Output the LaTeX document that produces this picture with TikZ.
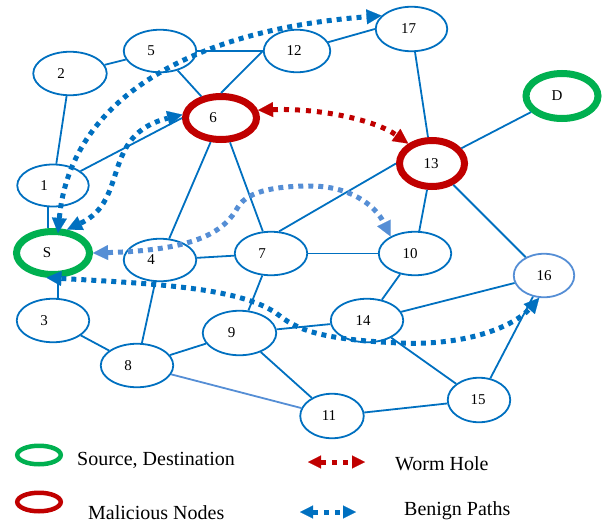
\documentclass[tikz,border=0pt]{standalone}
\usepackage{fontspec}
\setmainfont{Liberation Serif}
\usetikzlibrary{shapes.geometric,arrows.meta}
\definecolor{nblue}{HTML}{0070C0}
\definecolor{lblue}{HTML}{558ED5}
\definecolor{ngreen}{HTML}{00B050}
\definecolor{nred}{HTML}{C00000}
\begin{document}
\begin{tikzpicture}[x=1pt,y=-1pt,
  bn/.style={ellipse, draw=nblue, line width=1.8pt, fill=white, inner sep=0pt},
  gn/.style={ellipse, draw=ngreen, line width=7pt, fill=white, inner sep=0pt},
  rn/.style={ellipse, draw=nred, line width=7pt, fill=white, inner sep=0pt},
  lab/.style={font=\fontsize{15}{18}\selectfont, inner sep=0pt, text=black},
  leg/.style={font=\fontsize{20}{24}\selectfont, inner sep=0pt, text=black},
  edge/.style={draw=nblue, line width=1.8pt},
  bigtri/.tip={Triangle[length=15pt,width=15pt,line width=0.1pt]},
  smalltri/.tip={Triangle[length=13pt,width=13pt,line width=0.1pt]},
  benign/.style={draw=nblue, line width=5pt, dash pattern=on 5pt off 5pt, bigtri-bigtri},
  lbenign/.style={draw=lblue, line width=5pt, dash pattern=on 5pt off 5pt, bigtri-bigtri},
  worm/.style={draw=nred, line width=5pt, dash pattern=on 5pt off 6pt, bigtri-bigtri},
  legarrow/.style={line width=5pt, dash pattern=on 5pt off 6pt, smalltri-smalltri}
]
\useasboundingbox (0,0) rectangle (602,522);

% special nodes
\node[gn, minimum width=73pt, minimum height=43pt, label={[lab,xshift=-6pt]center:S}] (S) at (53,253) {};
\node[rn, minimum width=71pt, minimum height=43pt, label={[lab,xshift=-8pt]center:6}] (n6) at (221,118) {};
\node[rn, minimum width=65pt, minimum height=46pt, label={[lab,xshift=-1pt]center:13}] (n13) at (432,163.5) {};
\node[gn, minimum width=72pt, minimum height=45pt, label={[lab,xshift=-5pt]center:D}] (D) at (562,96) {};

% ordinary nodes
\node[bn, minimum width=71.5pt, minimum height=42pt, label={[lab,xshift=-9pt]center:1}] (n1) at (53,185.5) {};
\node[bn, minimum width=73.5pt, minimum height=43.5pt, label={[lab,xshift=-9pt]center:2}] (n2) at (70,73.5) {};
\node[bn, minimum width=72.5pt, minimum height=43.5pt, label={[lab,xshift=-9pt]center:3}] (n3) at (53,320.5) {};
\node[bn, minimum width=72.5pt, minimum height=42.5pt, label={[lab,xshift=-9pt]center:4}] (n4) at (160,260) {};
\node[bn, minimum width=72.5pt, minimum height=42.5pt, label={[lab,xshift=-9pt]center:5}] (n5) at (160,51) {};
\node[bn, minimum width=72.5pt, minimum height=43.5pt, label={[lab,xshift=-9pt]center:7}] (n7) at (271,253.5) {};
\node[bn, minimum width=72.5pt, minimum height=43.5pt, label={[lab,xshift=-9pt]center:8}] (n8) at (137,365.5) {};
\node[bn, minimum width=73.5pt, minimum height=44.5pt, label={[lab,xshift=-8pt]center:9}] (n9) at (239.5,333) {};
\node[bn, minimum width=72.5pt, minimum height=43.5pt, label={[lab,xshift=-5pt]center:10}] (n10) at (415,253.5) {};
\node[bn, minimum width=63.5pt, minimum height=44.5pt, label={[lab,xshift=-3pt]center:11}] (n11) at (332,416) {};
\node[bn, minimum width=66.5pt, minimum height=42.5pt, label={[lab,xshift=-3pt]center:12}] (n12) at (297,51) {};
\node[bn, minimum width=72.5pt, minimum height=43.5pt, label={[lab,xshift=-4pt]center:14}] (n14) at (367,320.5) {};
\node[bn, minimum width=62.5pt, minimum height=44.5pt, label={[lab,xshift=-1pt]center:15}] (n15) at (479,400) {};
\node[bn, draw=lblue, minimum width=60.5pt, minimum height=43.5pt, label={[lab]center:16}] (n16) at (544,275.5) {};
\node[bn, minimum width=71.5pt, minimum height=44.5pt, label={[lab,xshift=-3pt]center:17}] (n17) at (411.5,29) {};

% edges
\draw[edge] (n2) -- (n1);
\draw[edge] (n2) -- (n5);
\draw[edge] (n5) -- (n12);
\draw[edge] (n5) -- (n6);
\draw[edge] (n6.north) -- (n12.west);
\draw[edge] (n12) -- (n17.west);
\draw[edge] (n17) -- (n13);
\draw[edge] (n13) -- (D);
\draw[edge] (n1) -- (n6.west);
\draw[edge] (n6) -- (n4);
\draw[edge] (n6) -- (n7);
\draw[edge] ([xshift=-5pt]n1.south) -- ([xshift=-5pt]S.north);
\draw[edge] (n4) -- (n7);
\draw[edge] (n7) -- (n10);
\draw[edge] (n7.70) -- (n13.west);
\draw[edge] (n13) -- (n10);
\draw[edge] (n13) -- (n16);
\draw[edge] (n7) -- (n9);
\draw[edge] (n4) -- (n8);
\draw[edge] (n3) -- (n8);
\draw[edge] ([xshift=5pt]S.south) -- ([xshift=5pt]n3.north);
\draw[edge] (n8) -- (n9);
\draw[edge, draw=lblue] (n8) -- (n11);
\draw[edge] (n9) -- (n14);
\draw[edge] (n9) -- (n11);
\draw[edge] (n14) -- (n10);
\draw[edge] (n14) -- (n16);
\draw[edge] (n14) -- (n15);
\draw[edge] (n15) -- (n16);
\draw[edge] (n11) -- (n15);

% paths
\draw[worm] (n6.12) .. controls (320,108) and (375,120) .. (n13.140);
\draw[benign] ([xshift=5pt,yshift=-5pt]S.north) .. controls (70,100) and (190,30) .. (n17.156);
\draw[benign] (S.59) .. controls (130,200) and (100,135) .. (n6.175);
\draw[lbenign] (S.east) .. controls (200,250) and (225,230) .. (238,207)
  .. controls (248,190) and (280,186) .. (310,186)
  .. controls (350,186) and (375,205) .. (n10.145);
\draw[benign] (S.255) .. controls (160,284) and (245,288) .. (280,316)
  .. controls (300,332) and (330,340) .. (400,343)
  .. controls (470,346) and (515,325) .. (n16.258);

% legend
\node[gn, line width=4.5pt, minimum width=43.5pt, minimum height=18.5pt] (lgS) at (39,455) {};
\node[rn, line width=4.5pt, minimum width=43.5pt, minimum height=18.5pt] (lgM) at (39,502) {};
\node[leg, anchor=base west] (tS) at (77,465) {Source, Destination};
\node[leg, anchor=base west] (tM) at (88,519) {Malicious Nodes};
\node[leg, anchor=base west] (tW) at (395,470) {Worm Hole};
\node[leg, anchor=base west] (tB) at (404,515) {Benign Paths};
\coordinate (wa) at (308,462);
\coordinate (wb) at (365,462);
\coordinate (ba) at (300,512);
\coordinate (bb) at (356,512);
\draw[legarrow, draw=nred] (wa) -- (wb);
\draw[legarrow, draw=nblue] (ba) -- (bb);
\end{tikzpicture}
\end{document}
